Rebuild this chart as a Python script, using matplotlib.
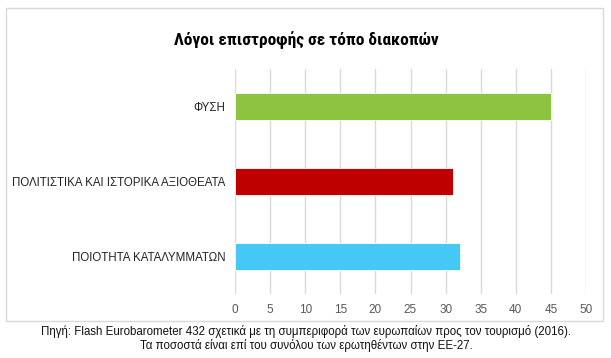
import matplotlib.pyplot as plt
from matplotlib.patches import Rectangle
from matplotlib import font_manager

categories = ['ΠΟΙΟΤΗΤΑ ΚΑΤΑΛΥΜΜΑΤΩΝ', 'ΠΟΛΙΤΙΣΤΙΚΑ ΚΑΙ ΙΣΤΟΡΙΚΑ ΑΞΙΟΘΕΑΤΑ', 'ΦΥΣΗ']
values = [32, 31, 45]
colors = ['#45C8F5', '#C00000', '#8CC43F']
xticks = [0, 5, 10, 15, 20, 25, 30, 35, 40, 45, 50]

title = 'Λόγοι επιστροφής σε τόπο διακοπών'
caption = ('Πηγή: Flash Eurobarometer 432 σχετικά με τη συμπεριφορά των ευρωπαίων προς τον τουρισμό (2016).\n'
           'Τα ποσοστά είναι επί του συνόλου των ερωτηθέντων στην ΕΕ-27.')

plt.rcParams['font.family'] = ['Liberation Sans', 'DejaVu Sans']

# a narrow face for the title if one is around
names = set(f.name for f in font_manager.fontManager.ttflist)
title_family = [n for n in ['Liberation Sans Narrow', 'DejaVu Sans Condensed', 'Roboto Condensed']
                if n in names] + ['DejaVu Sans']

fig = plt.figure(figsize=(6.11, 3.58), dpi=100)
# frame around the chart
fig.patches.append(Rectangle((6 / 611, 1 - 321 / 358), 597 / 611, 313 / 358,
                             transform=fig.transFigure, fill=False,
                             edgecolor='#D9D9D9', linewidth=1.0))

ax = fig.add_axes([235 / 611, 1 - 294 / 358, 351 / 611, 225 / 358])
ax.barh(range(len(values)), values, height=0.36, color=colors,
        edgecolor='white', linewidth=0.6, zorder=3)
ax.set_xlim(0, 50)
ax.set_ylim(-0.5, 2.5)
ax.set_xticks(xticks)
ax.set_yticks(range(len(categories)))
ax.set_yticklabels(categories, fontsize=8.3, color='#222222')
ax.tick_params(axis='x', length=0, labelsize=8.5, labelcolor='#595959', pad=7)
ax.tick_params(axis='y', length=0, pad=7)
ax.grid(axis='x', color='#D9D9D9', linewidth=1.0, zorder=0)
for s in ax.spines.values():
    s.set_visible(False)

tsize = 12.5 if title_family[0] != 'DejaVu Sans' else 11
fig.text(306 / 611, 1 - 40 / 358, title, ha='center', va='center',
         fontsize=tsize, fontweight='bold', family=title_family)
fig.text(306 / 611, 1 - 338 / 358, caption, ha='center', va='center',
         fontsize=8.3, color='#111111', linespacing=1.1)

fig.savefig('out.png', dpi=100)
